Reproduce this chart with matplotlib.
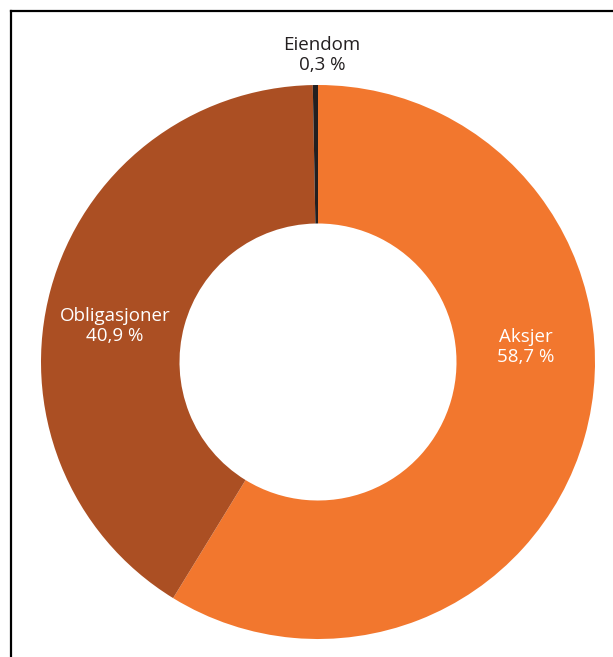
import matplotlib
matplotlib.use('Agg')
import matplotlib.pyplot as plt
from matplotlib.lines import Line2D

# Fordeling av porteføljen
categories = ['Aksjer', 'Obligasjoner', 'Eiendom']
shares = [58.7, 40.9, 0.3]
colors = ['#F2772E', '#AB4F23', '#231F20']

# label anchor (x, y) in pie units and text colour
labelPos = [(0.751, 0.054), (-0.733, 0.130), (0.014, 1.108)]
labelColors = ['white', 'white', '#231F20']

plt.rcParams['font.family'] = ['Open Sans', 'DejaVu Sans']

fig = plt.figure(figsize=(6.13, 6.57), dpi=100)
W, H = 613, 657
cx, cy, r = 318, 362, 277
ax = fig.add_axes([(cx - r) / W, (H - cy - r) / H, 2 * r / W, 2 * r / H])

ax.pie(shares, colors=colors, startangle=90, counterclock=False,
       radius=1, wedgeprops=dict(width=0.5, linewidth=0))
ax.set_xlim(-1, 1)
ax.set_ylim(-1, 1)
ax.set_aspect('equal')
ax.axis('off')

for name, val, (x, y), c in zip(categories, shares, labelPos, labelColors):
    txt = f"{name}\n{val:.1f} %".replace('.', ',')
    ax.text(x, y, txt, ha='center', va='center', color=c, fontsize=13.5,
            linespacing=1.1, clip_on=False)

# frame along the left and top edge
fig.add_artist(Line2D([11 / W, 11 / W], [0, 1 - 11 / H], transform=fig.transFigure,
                      color='black', linewidth=1.6, solid_capstyle='projecting'))
fig.add_artist(Line2D([11 / W, 1], [1 - 11 / H, 1 - 11 / H], transform=fig.transFigure,
                      color='black', linewidth=1.6, solid_capstyle='projecting'))

fig.savefig('out.png', dpi=100)
